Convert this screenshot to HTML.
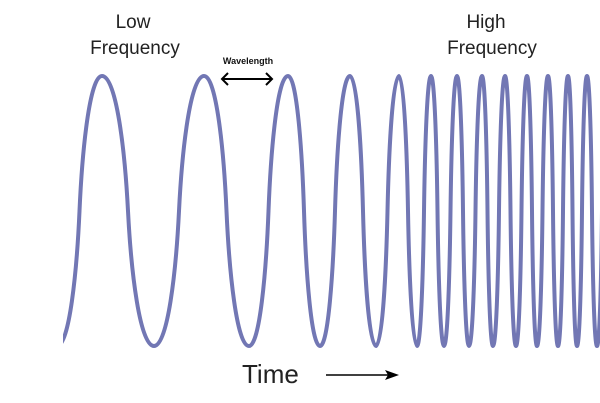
<!DOCTYPE html>
<html><head><meta charset="utf-8"><style>
html,body{margin:0;padding:0;background:#fff;}
svg{display:block}
text{font-family:"Liberation Sans",sans-serif;}
</style></head><body>
<svg id="s" width="600" height="403" viewBox="0 0 600 403" xmlns="http://www.w3.org/2000/svg">
<defs><clipPath id="c"><rect x="63" y="0" width="537" height="403"/></clipPath></defs>
<path id="w" clip-path="url(#c)" fill="none" stroke="#7277b4" stroke-width="4" stroke-linecap="round" d=""/>
<text x="133" y="28" font-size="19" text-anchor="middle" fill="#222">Low</text>
<text x="135" y="54" font-size="19" text-anchor="middle" fill="#222">Frequency</text>
<text x="486" y="28" font-size="19" text-anchor="middle" fill="#222">High</text>
<text x="492" y="54" font-size="19" text-anchor="middle" fill="#222">Frequency</text>
<text x="248" y="64" font-size="9" font-weight="bold" text-anchor="middle" fill="#111">Wavelength</text>
<g stroke="#000" stroke-width="2" fill="none">
<line x1="222" y1="79" x2="272" y2="79"/>
<polyline points="228,73 222,79 228,85"/>
<polyline points="266,73 272,79 266,85"/>
<line x1="326" y1="375" x2="388" y2="375" stroke-width="1.6"/>
</g>
<polygon points="385,370 399,375 385,380 388,375" fill="#000"/>
<text x="242" y="383" font-size="26" fill="#222">Time</text>
</svg>
<script>
var ex=[[57,'T'],[102,'P'],[154,'T'],[204,'P'],[249,'T'],[288,'P'],[320,'T'],[350,'P'],[376,'T'],[399,'P'],[417,'T'],[431,'P'],[444,'T'],[457,'P'],[469,'T'],[482,'P'],[493,'T'],[505,'P'],[516,'T'],[527,'P'],[537,'T'],[548,'P'],[558,'T'],[568,'P'],[577,'T'],[587,'P'],[597,'T'],[607,'P']];
function y(t){return t=='P'?76:346;}
var d='M'+ex[0][0]+' '+y(ex[0][1]);
for(var i=1;i<ex.length;i++){var x0=ex[i-1][0],x1=ex[i][0],y0=y(ex[i-1][1]),y1=y(ex[i][1]);
var xm=(x0+x1)/2,ym=(y0+y1)/2,rx=xm-x0,ry=ym-y0;
d+=' C'+(x0+0.55*rx)+' '+y0+' '+(xm-0.12*rx)+' '+(ym-0.45*ry)+' '+xm+' '+ym;
d+=' C'+(xm+0.12*rx)+' '+(ym+0.45*ry)+' '+(x1-0.55*rx)+' '+y1+' '+x1+' '+y1;}
document.getElementById('w').setAttribute('d',d);
</script>
</body></html>
